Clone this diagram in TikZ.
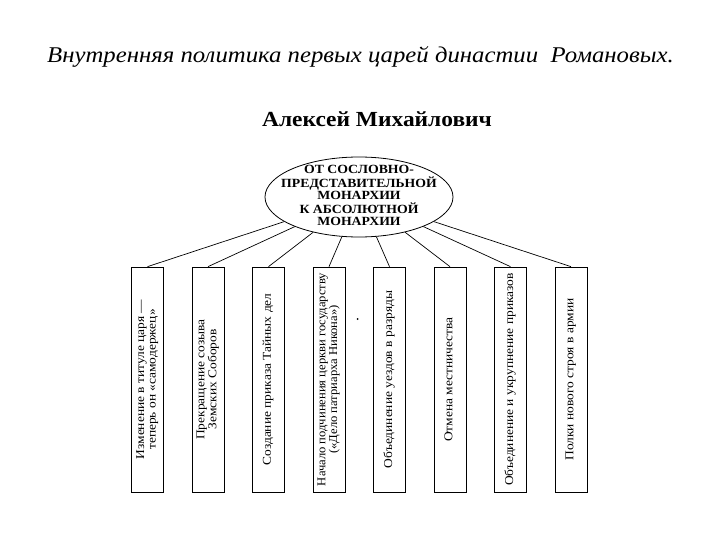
\documentclass[tikz,border=0pt]{standalone}
\usepackage{fontspec}
\setmainfont{Liberation Serif}
\usetikzlibrary{shapes.geometric}

\newcommand{\widetext}[2]{\scalebox{#1}[1]{#2}}
\newcommand{\reformtext}[2][1.12]{\rotatebox{90}{\widetext{#1}{\begin{tabular}{@{}c@{}}#2\end{tabular}}}}

\begin{document}
\begin{tikzpicture}[x=1pt,y=-1pt,
    reform/.style={draw=black, line width=0.7pt, rectangle, minimum width=32pt,
        minimum height=225pt, inner sep=0pt, font=\fontsize{12}{11.5}\selectfont},
    link/.style={draw=black, line width=0.7pt}]
    % Рамка картинки
    \useasboundingbox (0,0) rectangle (720,540);
    
    % Заголовки
    \node[anchor=base west, inner sep=0pt, font=\fontsize{22.5}{26}\selectfont\itshape]
        (title) at (47,63) {\widetext{1.1}{Внутренняя политика первых царей династии\ \ Романовых.}};
    \node[anchor=base, inner sep=0pt, font=\fontsize{21.5}{24}\selectfont\bfseries]
        (tsar) at (377,127) {\widetext{1.09}{Алексей Михайлович}};
    
    % Овал в центре
    \node[draw=black, line width=0.8pt, ellipse, minimum width=188pt, minimum height=80pt,
        inner sep=0pt] (monarchy) at (359,197) {};
    \node[inner sep=0pt, font=\fontsize{12.5}{11.7}\selectfont\bfseries] (monarchytext) at (monarchy.center)
        {\widetext{1.1}{\begin{tabular}{@{}c@{}}ОТ СОСЛОВНО-\\ПРЕДСТАВИТЕЛЬНОЙ\\МОНАРХИИ\\К АБСОЛЮТНОЙ\\МОНАРХИИ\end{tabular}}};
    
    % Прямоугольники с реформами
    \node[reform] (b1) at (147.5,379.5) {\reformtext{Изменение в титуле царя —\\теперь он «самодержец»}};
    \node[reform] (b2) at (208,379.5) {\reformtext{Прекращение созыва\\Земских Соборов}};
    \node[reform] (b3) at (268.5,379.5) {\reformtext{Создание приказа Тайных дел}};
    \node[reform] (b4) at (329,379.5) {\reformtext[1.05]{Начало подчинения церкви государству\\(«Дело патриарха Никона»)}};
    \node[reform] (b5) at (389.5,379.5) {\reformtext{Объединение уездов в разряды}};
    \node[reform] (b6) at (450,379.5) {\reformtext{Отмена местничества}};
    \node[reform] (b7) at (510.5,379.5) {\reformtext{Объединение и укрупнение приказов}};
    \node[reform] (b8) at (571,379.5) {\reformtext{Полки нового строя в армии}};
    
    % Линии от овала к прямоугольникам
    \draw[link] (monarchy) -- (b1.north);
    \draw[link] (monarchy) -- (b2.north);
    \draw[link] (monarchy) -- (b3.north);
    \draw[link] (monarchy) -- (b4.north);
    \draw[link] (monarchy) -- (b5.north);
    \draw[link] (monarchy) -- (b6.north);
    \draw[link] (monarchy) -- (b7.north);
    \draw[link] (monarchy) -- (b8.north);
    
    % Точка между прямоугольниками
    \fill[black] (357.5,319) circle (1pt);
\end{tikzpicture}
\end{document}
